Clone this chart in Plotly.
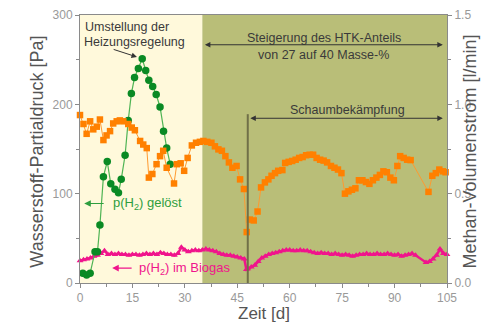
import plotly.graph_objects as go

# ---------------- data ----------------
green_days = [0.8, 1.9, 2.9, 4.3, 5.0, 5.7, 6.7, 7.8, 8.8, 10.0, 11.0, 11.8, 12.9, 13.8,
              14.7, 15.6, 16.7, 17.8, 18.8, 19.7, 20.8, 21.8, 22.9, 23.9, 24.8, 25.8]
green_pa = [11, 9, 11, 35, 35, 65, 119, 136, 111, 105, 101, 116, 143, 182,
            212, 230, 240, 251, 238, 227, 220, 211, 197, 170, 151, 133]

pink_days = [0, 1, 2, 3, 4, 5, 6, 7, 8, 9, 10, 11, 12, 13, 14, 15, 16, 17, 18, 19,
             20, 21, 22, 23, 24, 25, 26, 27, 28, 29, 30, 31, 32, 33, 34, 35, 36, 37, 38, 39,
             40, 41, 42, 43, 44, 45, 46, 47, 47.6, 48, 49, 50, 51, 52, 53, 54, 55, 56, 57, 58,
             59, 60, 61, 62, 63, 64, 65, 66, 67, 68, 69, 70, 71, 72, 73, 74, 75, 76, 77, 78,
             79, 80, 81, 82, 83, 84, 85, 86, 87, 88, 89, 90, 91, 92, 93, 94, 95, 96,
             99, 100, 101, 102, 103, 104, 105]
pink_pa = [25, 26, 27, 28, 30, 31, 33, 36, 32, 33, 32, 33, 32, 32, 31, 32, 32, 31, 32, 33,
           32, 33, 32, 34, 33, 32, 32, 31, 33, 40, 37, 35, 36, 37, 36, 37, 38, 37, 36, 35,
           33, 32, 31, 31, 30, 29, 28, 27, 15, 16, 18, 20, 24, 28, 30, 32, 33, 34, 35, 36,
           37, 37, 36, 36, 37, 36, 36, 35, 34, 33, 34, 33, 33, 32, 33, 32, 31, 32, 31, 30,
           31, 32, 32, 33, 32, 32, 33, 32, 32, 33, 32, 31, 32, 30, 31, 32, 33, 31,
           23, 24, 27, 31, 38, 33, 32]

orange_days = [0, 1, 1.9, 2.9, 3.8, 4.8, 5.7, 6.7, 7.6, 8.6, 9.5, 10.5, 11.4, 12.4, 13.8,
               14.8, 15.7, 17.2, 18.1, 19.1, 19.7, 20.7, 21.9, 22.9, 23.8, 24.8, 26.9, 27.7,
               28.8, 29.8, 30.8, 32.0, 33.2, 34.3, 35.3, 36.4, 37.6, 38.6, 39.6, 40.6, 41.6,
               42.6, 43.6, 44.8, 45.8, 46.9, 47.7, 48.6, 49.7, 50.8, 51.8, 52.9, 53.9, 54.8,
               55.8, 56.7, 57.9, 58.7, 59.7, 60.7, 61.7, 62.7, 63.7, 64.7, 65.7, 66.7, 67.7,
               68.7, 69.7, 70.7, 71.8, 72.8, 73.8, 74.8, 75.8, 76.8, 77.8, 78.8, 79.8, 80.8,
               81.8, 82.8, 83.8, 84.8, 85.8, 86.8, 87.8, 88.8, 89.8, 90.8, 91.6, 92.6, 93.6,
               94.6, 99.7, 100.8, 101.8, 102.8, 103.8, 104.6]
orange_lmin = [0.94, 0.89, 0.835, 0.905, 0.86, 0.875, 0.915, 0.80, 0.826, 0.85, 0.893, 0.905,
               0.91, 0.905, 0.89, 0.87, 0.855, 0.795, 0.775, 0.755, 0.59, 0.61, 0.665, 0.71,
               0.74, 0.645, 0.557, 0.665, 0.67, 0.628, 0.70, 0.77, 0.785, 0.79, 0.795, 0.79,
               0.785, 0.765, 0.748, 0.74, 0.71, 0.675, 0.645, 0.655, 0.58, 0.526, 0.285, 0.355,
               0.35, 0.40, 0.535, 0.563, 0.58, 0.60, 0.615, 0.628, 0.632, 0.672, 0.678, 0.683,
               0.69, 0.70, 0.705, 0.715, 0.718, 0.718, 0.70, 0.69, 0.685, 0.675, 0.655, 0.645,
               0.635, 0.615, 0.50, 0.513, 0.522, 0.53, 0.575, 0.575, 0.565, 0.555, 0.575, 0.59,
               0.605, 0.625, 0.62, 0.59, 0.575, 0.655, 0.71, 0.70, 0.69, 0.688, 0.51, 0.60,
               0.615, 0.635, 0.625, 0.62]

x_ticks = [0, 15, 30, 45, 60, 75, 90, 105]
y_ticks = [0, 100, 200, 300]
y2_ticks = [0.0, 0.5, 1.0, 1.5]
y2_ticklabels = ["0.0", "0.5", "1.0", "1.5"]

# ---------------- figure ----------------
FONT = "Liberation Sans, Arial, sans-serif"
YELLOW = "#FFF9DB"
OLIVE = "#B9BE78"
ORANGE = "#FF8000"
GREEN = "#0A8A24"
PINK = "#F0148C"
TXT = "#3a3a3a"
AX = "#8a8a8a"

fig = go.Figure()

fig.add_trace(go.Scatter(
    x=pink_days, y=pink_pa, mode="lines+markers", yaxis="y", cliponaxis=False,
    line=dict(color=PINK, width=2.5),
    marker=dict(symbol="triangle-up", size=6, color=PINK),
    showlegend=False))

fig.add_trace(go.Scatter(
    x=orange_days, y=orange_lmin, mode="lines+markers", yaxis="y2", cliponaxis=False,
    line=dict(color="#FF9A30", width=1),
    marker=dict(symbol="square", size=6.5, color=ORANGE),
    showlegend=False))

fig.add_trace(go.Scatter(
    x=green_days, y=green_pa, mode="lines+markers", yaxis="y", cliponaxis=False,
    line=dict(color="#4FB454", width=1.2),
    marker=dict(symbol="circle", size=7.5, color=GREEN),
    showlegend=False))

# backgrounds
fig.add_shape(type="rect", xref="x", yref="paper", x0=0, x1=35, y0=0, y1=1,
              fillcolor=YELLOW, line=dict(width=0), layer="below")
fig.add_shape(type="rect", xref="x", yref="paper", x0=35, x1=105, y0=0, y1=1,
              fillcolor=OLIVE, line=dict(width=0), layer="below")
# vertical marker line
fig.add_shape(type="line", xref="x", yref="y", x0=48, x1=48, y0=0, y1=189,
              line=dict(color="#707048", width=2))

ann = []
def text(x, y, s, size=12.5, color=TXT, xanchor="center"):
    ann.append(dict(x=x, y=y, xref="x", yref="y", text=s, showarrow=False,
                    font=dict(family=FONT, size=size, color=color), xanchor=xanchor,
                    yanchor="middle"))

def arrow(x0, y0, x1, y1, color="#333333", both=False, width=1):
    ann.append(dict(x=x1, y=y1, ax=x0, ay=y0, xref="x", yref="y", axref="x", ayref="y",
                    text="", showarrow=True, arrowhead=2, arrowsize=1.1, arrowwidth=width,
                    arrowcolor=color, startarrowhead=2, startarrowsize=1.1,
                    arrowside="end+start" if both else "end"))

text(0.9, 286.7, "Umstellung der", xanchor="left")
text(0.5, 270, "Heizungsregelung", xanchor="left")
arrow(9.2, 262, 16.3, 253, color="#333333")

text(69.8, 274.4, "Steigerung des HTK-Anteils")
text(69.8, 255.6, "von 27 auf 40 Masse-%")
arrow(35.3, 266.7, 103.8, 266.7, both=True)

text(76.4, 193.3, "Schaumbekämpfung")
arrow(48.3, 184.4, 103.8, 184.4, both=True)

arrow(7.2, 89, 1.2, 89, color="#2E9E3E", width=1.2)
text(8.9, 89, "p(H<sub>2</sub>) gelöst", size=13, color="#2E9E3E", xanchor="left")
arrow(15.2, 16.7, 9.2, 16.7, color=PINK, width=1.2)
text(16.3, 16.7, "p(H<sub>2</sub>) im Biogas", size=13, color=PINK, xanchor="left")

# axis titles
ann.append(dict(x=-0.15, y=0.49, xref="paper", yref="paper", text="Wasserstoff-Partialdruck [Pa]",
                textangle=-90, showarrow=False, font=dict(family=FONT, size=18, color="#555555")))
ann.append(dict(x=1.095, y=0.49, xref="paper", yref="paper", text="Methan-Volumenstrom [l/min]",
                textangle=-90, showarrow=False, font=dict(family=FONT, size=18, color="#555555")))
ann.append(dict(x=0.5, y=-0.112, xref="paper", yref="paper", text="Zeit [d]",
                showarrow=False, font=dict(family=FONT, size=17, color="#555555"),
                yanchor="middle"))

fig.update_layout(
    width=488, height=316,
    margin=dict(l=72, r=49, t=7, b=41),
    paper_bgcolor="white", plot_bgcolor="white",
    font=dict(family=FONT),
    annotations=ann,
    xaxis=dict(range=[0, 105], tickvals=x_ticks, ticks="outside", ticklen=4,
               tickcolor=AX, showline=True, linecolor=AX, mirror=True, showgrid=False,
               zeroline=False, tickfont=dict(size=12, color="#999999"), automargin=False,
               ticklabeloverflow="allow",
               minor=dict(dtick=7.5, tick0=0, ticks="outside", ticklen=3, tickcolor=AX)),
    yaxis=dict(range=[0, 300], tickvals=y_ticks, ticks="outside", ticklen=4,
               tickcolor=AX, showline=True, linecolor=AX, showgrid=False, zeroline=False,
               tickfont=dict(size=12, color="#999999"), automargin=False,
               ticklabeloverflow="allow",
               minor=dict(dtick=50, tick0=0, ticks="outside", ticklen=3, tickcolor=AX)),
    yaxis2=dict(range=[0, 1.5], tickvals=y2_ticks, ticktext=y2_ticklabels, overlaying="y",
                side="right", ticks="outside", ticklen=4, tickcolor=AX, showline=True,
                linecolor=AX, showgrid=False, zeroline=False, automargin=False,
                tickfont=dict(size=12, color="#999999"), ticklabeloverflow="allow",
                minor=dict(dtick=0.25, tick0=0, ticks="outside", ticklen=3, tickcolor=AX)),
)

fig.write_html("out.html")
